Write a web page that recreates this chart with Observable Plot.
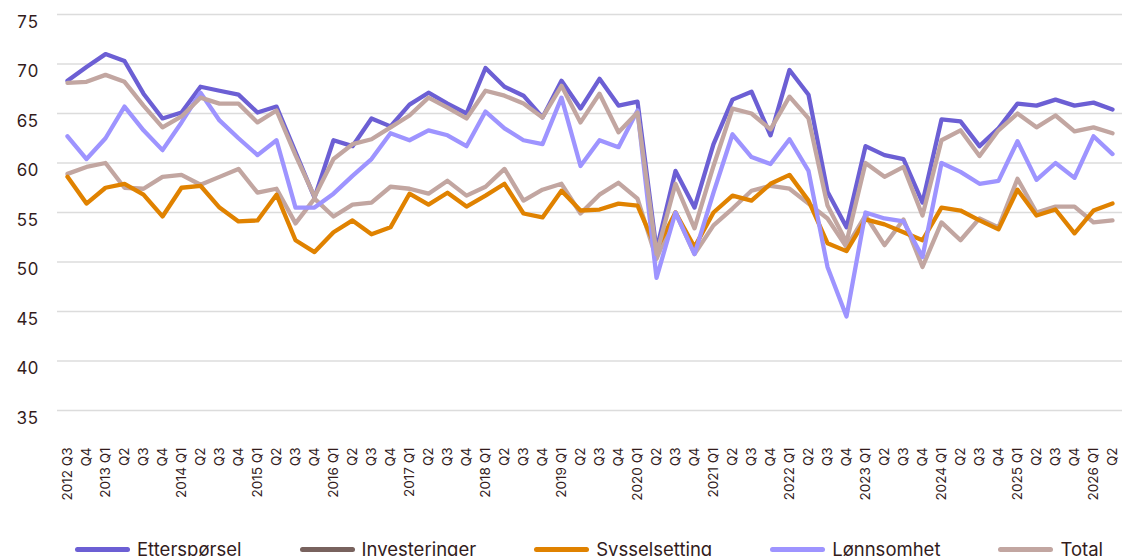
<!DOCTYPE html>
<html>
<head>
<meta charset="utf-8">
<script src="https://cdn.jsdelivr.net/npm/d3@7"></script>
<script src="https://cdn.jsdelivr.net/npm/@observablehq/plot@0.6"></script>
<style>
  html, body { margin: 0; padding: 0; background: #ffffff; }
  body { width: 1123px; height: 556px; overflow: hidden; font-family: Inter, "Noto Sans", sans-serif; color: #331c1c; }
  #legend { display: flex; gap: 58px; padding-left: 75px; margin-top: 8px; align-items: center; height: 22px; }
  .item { display: flex; align-items: center; gap: 7px; font-size: 18.5px; line-height: 22px; white-space: nowrap; }
  .sw { width: 55px; height: 5px; border-radius: 3px; }
</style>
</head>
<body>
<div id="chart"></div>
<div id="legend"></div>
<script>
const quarters = ["2012 Q3","Q4",
  "2013 Q1","Q2 ","Q3 ","Q4 ",
  "2014 Q1","Q2  ","Q3  ","Q4  ",
  "2015 Q1","Q2   ","Q3   ","Q4   ",
  "2016 Q1","Q2    ","Q3    ","Q4    ",
  "2017 Q1","Q2     ","Q3     ","Q4     ",
  "2018 Q1","Q2      ","Q3      ","Q4      ",
  "2019 Q1","Q2       ","Q3       ","Q4       ",
  "2020 Q1","Q2        ","Q3        ","Q4        ",
  "2021 Q1","Q2         ","Q3         ","Q4         ",
  "2022 Q1","Q2          ","Q3          ","Q4          ",
  "2023 Q1","Q2           ","Q3           ","Q4           ",
  "2024 Q1","Q2            ","Q3            ","Q4            ",
  "2025 Q1","Q2             ","Q3             ","Q4             ",
  "2026 Q1","Q2              "];

const seriesNames = ["Etterspørsel", "Investeringer", "Sysselsetting", "Lønnsomhet", "Total"];
const lineColors = ["#6c5fd4", "#c2a6a1", "#e08200", "#9e94ff", "#c2a6a1"];
const legendColors = ["#6c5fd4", "#78625e", "#e08200", "#9e94ff", "#c2a6a1"];
const yTicks = [35, 40, 45, 50, 55, 60, 65, 70, 75];

const ettersporsel = [68.3, 69.7, 71.0, 70.3, 67.0, 64.5, 65.1, 67.7, 67.3, 66.9,
  65.1, 65.7, 61.1, 56.5, 62.3, 61.7, 64.5, 63.7, 65.9, 67.1,
  66.0, 65.0, 69.6, 67.7, 66.8, 64.6, 68.3, 65.5, 68.5, 65.8,
  66.2, 51.2, 59.2, 55.5, 61.9, 66.4, 67.2, 62.8, 69.4, 66.9,
  57.1, 53.5, 61.7, 60.8, 60.4, 56.0, 64.4, 64.2, 61.7, 63.5,
  66.0, 65.8, 66.4, 65.8, 66.1, 65.4];

const investeringer = [58.9, 59.6, 60.0, 57.5, 57.4, 58.6, 58.8, 57.8, 58.6, 59.4,
  57.0, 57.4, 53.9, 56.4, 54.6, 55.8, 56.0, 57.6, 57.4, 56.9,
  58.2, 56.7, 57.6, 59.4, 56.2, 57.3, 57.9, 54.9, 56.8, 58.0,
  56.4, 50.3, 55.0, 50.8, 53.7, 55.4, 57.2, 57.7, 57.4, 55.9,
  54.4, 51.5, 54.7, 51.7, 54.3, 49.5, 54.0, 52.2, 54.4, 53.5,
  58.4, 55.0, 55.6, 55.6, 54.0, 54.2];

const sysselsetting = [58.6, 55.9, 57.5, 57.9, 56.8, 54.6, 57.5, 57.7, 55.5, 54.1,
  54.2, 56.8, 52.2, 51.0, 53.0, 54.2, 52.8, 53.5, 56.9, 55.8,
  57.0, 55.6, 56.7, 57.9, 54.9, 54.5, 57.2, 55.2, 55.3, 55.9,
  55.7, 51.3, 55.0, 51.5, 55.0, 56.7, 56.2, 57.9, 58.8, 56.2,
  51.9, 51.1, 54.3, 53.8, 53.0, 52.2, 55.5, 55.2, 54.2, 53.3,
  57.3, 54.7, 55.3, 52.9, 55.2, 55.9];

const lonnsomhet = [62.7, 60.4, 62.5, 65.7, 63.3, 61.3, 64.1, 67.1, 64.3, 62.5,
  60.8, 62.3, 55.5, 55.5, 56.9, 58.7, 60.4, 63.0, 62.3, 63.3,
  62.8, 61.7, 65.2, 63.5, 62.3, 61.9, 66.6, 59.7, 62.3, 61.6,
  65.3, 48.4, 55.0, 50.8, 57.0, 62.9, 60.6, 59.9, 62.4, 59.2,
  49.5, 44.5, 55.0, 54.4, 54.1, 50.5, 60.0, 59.1, 57.9, 58.2,
  62.2, 58.3, 60.0, 58.5, 62.7, 60.9];

const total = [68.1, 68.2, 68.9, 68.2, 65.8, 63.6, 64.7, 66.6, 66.0, 66.0,
  64.1, 65.3, 60.8, 56.6, 60.4, 61.9, 62.4, 63.6, 64.8, 66.6,
  65.6, 64.5, 67.3, 66.8, 66.0, 64.6, 67.8, 64.1, 67.0, 63.1,
  65.1, 50.8, 57.9, 53.4, 59.7, 65.5, 65.0, 63.4, 66.7, 64.5,
  55.7, 52.0, 60.0, 58.6, 59.6, 54.7, 62.3, 63.3, 60.7, 63.3,
  65.0, 63.6, 64.8, 63.2, 63.6, 63.0];

const allValues = [ettersporsel, investeringer, sysselsetting, lonnsomhet, total];
const rows = allValues.flatMap((vals, k) => vals.map((v, i) => ({q: quarters[i], v, s: seriesNames[k]})));

const chart = Plot.plot({
  width: 1123,
  height: 530,
  marginLeft: 57,
  marginRight: 1,
  marginTop: 14,
  marginBottom: 120,
  style: {fontFamily: "Inter, 'Noto Sans', sans-serif", color: "#331c1c", background: "#ffffff", overflow: "visible"},
  x: {type: "point", domain: quarters, padding: 0.47},
  y: {domain: [35, 75]},
  color: {domain: seriesNames, range: lineColors},
  marks: [
    Plot.gridY(yTicks, {stroke: "#dcdcdc", strokeOpacity: 1, strokeWidth: 1.5}),
    Plot.axisY(yTicks, {tickSize: 0, tickPadding: 19, dy: 8, fontSize: 17, label: null, tickFormat: d => String(d)}),
    Plot.axisX({tickSize: 0, tickRotate: -90, tickPadding: 37, fontSize: 13.5, label: null, tickFormat: d => d.trim()}),
    Plot.line(rows, {x: "q", y: "v", z: "s", stroke: "s", strokeWidth: 4.3})
  ]
});
document.getElementById("chart").appendChild(chart);

const legend = document.getElementById("legend");
seriesNames.forEach((name, k) => {
  const item = document.createElement("div");
  item.className = "item";
  const sw = document.createElement("span");
  sw.className = "sw";
  sw.style.background = legendColors[k];
  const label = document.createElement("span");
  label.textContent = name;
  item.appendChild(sw);
  item.appendChild(label);
  legend.appendChild(item);
});
</script>
</body>
</html>
